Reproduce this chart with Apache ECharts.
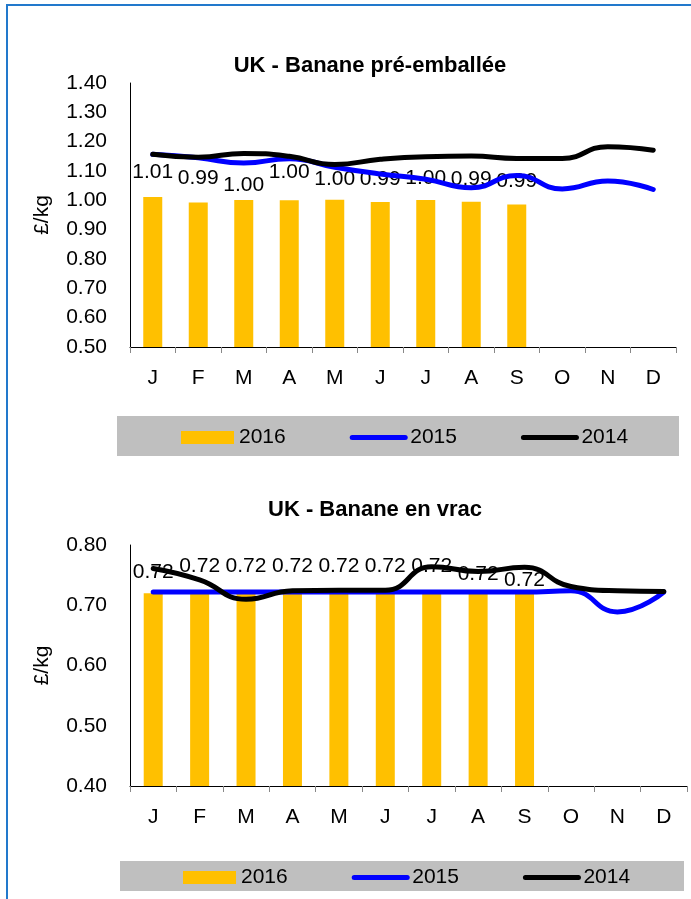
<!DOCTYPE html>
<html>
<head>
<meta charset="utf-8">
<title>UK - Banane</title>
<script src="https://cdn.jsdelivr.net/npm/echarts@6/dist/echarts.min.js"></script>
<style>
    html, body {
        margin: 0;
        padding: 0;
        background: #fff;
        overflow: hidden;
    }
    #frame {
        position: absolute;
        left: 6px;
        top: 4px;
        width: 700px;
        height: 910px;
        border-top: 2px solid #2279cc;
        border-left: 2px solid #2279cc;
    }
    #chart {
        position: absolute;
        left: 0;
        top: 0;
        width: 691px;
        height: 899px;
    }
</style>
</head>
<body>
<div id="frame"></div>
<div id="chart"></div>
<script>
const months = ['J', 'F', 'M', 'A', 'M', 'J', 'J', 'A', 'S', 'O', 'N', 'D'];
const years = ['2016', '2015', '2014'];

// UK - Banane pré-emballée (£/kg)
const prepack2016 = [1.011, 0.993, 1.001, 1.000, 1.002, 0.994, 1.001, 0.995, 0.986];
const prepack2015 = [1.157, 1.145, 1.127, 1.142, 1.113, 1.090, 1.072, 1.043, 1.085, 1.039, 1.066, 1.037];
const prepack2014 = [1.157, 1.147, 1.160, 1.150, 1.122, 1.140, 1.149, 1.151, 1.143, 1.143, 1.183, 1.171];

// UK - Banane en vrac (£/kg)
const bulk2016 = [0.72, 0.72, 0.72, 0.72, 0.72, 0.72, 0.72, 0.72, 0.72];
const bulk2015 = [0.722, 0.722, 0.722, 0.722, 0.722, 0.722, 0.722, 0.722, 0.722, 0.724, 0.689, 0.722];
const bulk2014 = [0.761, 0.742, 0.710, 0.724, 0.725, 0.725, 0.764, 0.756, 0.763, 0.731, 0.724, 0.723];

// label distances above the bars (the labels sit at uneven heights in the original)
const prepackLabelGap = [14, 14, 4, 18, 10, 12, 11, 12, 13];
const bulkLabelGap = [10, 16, 16, 16, 16, 16, 16, 8, 2];

const FONT = "'Liberation Sans', Arial, sans-serif";
const colors = {
    '2016': '#ffc000',
    '2015': '#0000ff',
    '2014': '#000000'
};

function lineLegendItem(name) {
    return {
        name: name,
        itemStyle: {opacity: 0},
        lineStyle: {color: colors[name], width: 5, cap: 'round'}
    };
}

function buildPanel({index, title, titleX, titleTop, grid, min, max, bars, labelGaps, line2015, line2014, legendLeft, legendTop, box}) {
    return {
        title: {
            text: title,
            left: titleX,
            top: titleTop,
            textAlign: 'center',
            textStyle: {fontFamily: FONT, fontSize: 22, fontWeight: 'bold', color: '#000'}
        },
        grid: grid,
        xAxis: {
            type: 'category',
            gridIndex: index,
            data: months,
            axisLine: {lineStyle: {color: '#000', width: 1}},
            axisTick: {show: true, length: 6, lineStyle: {color: '#888'}},
            axisLabel: {fontFamily: FONT, fontSize: 21, color: '#000', margin: 21, interval: 0},
            splitLine: {show: false}
        },
        yAxis: {
            type: 'value',
            gridIndex: index,
            min: min,
            max: max,
            interval: 0.1,
            name: '£/kg',
            nameLocation: 'middle',
            nameGap: 77,
            nameTextStyle: {fontFamily: FONT, fontSize: 21, color: '#000'},
            axisLine: {show: true, lineStyle: {color: '#000', width: 1}},
            axisTick: {show: false},
            axisLabel: {
                fontFamily: FONT, fontSize: 21, color: '#000', margin: 23,
                formatter: v => v.toFixed(2)
            },
            splitLine: {show: false}
        },
        series: [
            {
                name: '2016',
                type: 'bar',
                xAxisIndex: index,
                yAxisIndex: index,
                barWidth: 19,
                itemStyle: {color: colors['2016']},
                label: {
                    show: true,
                    position: 'top',
                    fontFamily: FONT,
                    fontSize: 21,
                    color: '#000',
                    formatter: p => p.value.toFixed(2)
                },
                data: bars.map((v, i) => ({value: v, label: {distance: labelGaps[i]}}))
            },
            {
                name: '2015',
                type: 'line',
                xAxisIndex: index,
                yAxisIndex: index,
                z: 3,
                smooth: 0.5,
                symbol: 'none',
                lineStyle: {color: colors['2015'], width: 5, cap: 'round'},
                itemStyle: {color: colors['2015']},
                data: line2015
            },
            {
                name: '2014',
                type: 'line',
                xAxisIndex: index,
                yAxisIndex: index,
                z: 4,
                smooth: 0.5,
                symbol: 'none',
                lineStyle: {color: colors['2014'], width: 5, cap: 'round'},
                itemStyle: {color: colors['2014']},
                data: line2014
            }
        ],
        legend: {
            left: legendLeft,
            top: legendTop,
            padding: 0,
            itemGap: 64,
            itemWidth: 53,
            itemHeight: 13,
            textStyle: {fontFamily: FONT, fontSize: 21, color: '#000'},
            data: [{name: '2016', icon: 'rect'}, lineLegendItem('2015'), lineLegendItem('2014')]
        },
        box: {
            type: 'rect',
            silent: true,
            z: -10,
            shape: box,
            style: {fill: '#bfbfbf'}
        }
    };
}

function init() {
    const chart = echarts.init(document.getElementById('chart'), null, {renderer: 'canvas'});

    const top = buildPanel({
        index: 0,
        title: 'UK - Banane pré-emballée',
        titleX: 365,
        titleTop: 50,
        grid: {left: 130, top: 83, width: 546, height: 264},
        min: 0.5,
        max: 1.4,
        bars: prepack2016,
        labelGaps: prepackLabelGap,
        line2015: prepack2015,
        line2014: prepack2014,
        legendLeft: 181,
        legendTop: 427,
        box: {x: 117, y: 416, width: 562, height: 40}
    });

    const bottom = buildPanel({
        index: 1,
        title: 'UK - Banane en vrac',
        titleX: 370,
        titleTop: 494,
        grid: {left: 130, top: 545, width: 557, height: 241},
        min: 0.4,
        max: 0.8,
        bars: bulk2016,
        labelGaps: bulkLabelGap,
        line2015: bulk2015,
        line2014: bulk2014,
        legendLeft: 183,
        legendTop: 867,
        box: {x: 120, y: 861, width: 564, height: 30}
    });

    const panels = [top, bottom];
    chart.setOption({
        animation: false,
        backgroundColor: 'transparent',
        title: panels.map(p => p.title),
        grid: panels.map(p => p.grid),
        xAxis: panels.map(p => p.xAxis),
        yAxis: panels.map(p => p.yAxis),
        legend: panels.map(p => p.legend),
        series: panels.flatMap(p => p.series),
        graphic: panels.map(p => p.box)
    });
}

document.addEventListener("DOMContentLoaded", init);
</script>
</body>
</html>
